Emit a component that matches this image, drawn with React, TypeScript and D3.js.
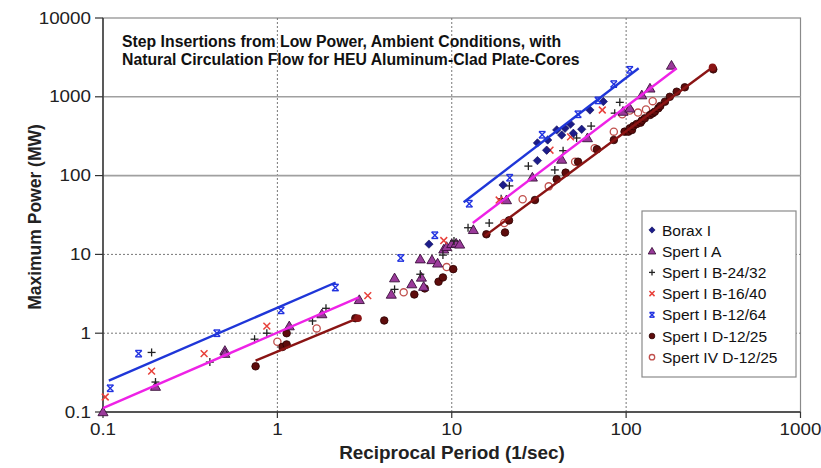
import React from "react";
import * as d3 from "d3";

// ---- data (x = reciprocal period 1/sec, y = max power MW) ----
const boraxI: [number, number][] = [
  [7.4, 13.5], [19.7, 76], [31, 155], [31, 260], [35, 210], [35.5, 283], [40, 380],
  [42.7, 327], [44.6, 398], [49.8, 344], [55.6, 387], [62, 680], [74, 870], [48, 450],
];
const spertIA: [number, number][] = [
  [0.1, 0.1], [0.2, 0.21], [0.5, 0.6], [0.5, 0.55], [1.17, 1.23], [1.8, 1.75], [2.95, 2.65],
  [4.5, 3.1], [4.7, 5], [5.9, 4.2], [6.7, 5.1], [6.9, 3.9], [6.6, 8.7], [7.7, 8.5], [8.3, 7.7],
  [9.0, 11.6], [9.35, 12.5], [10, 13.6], [10.6, 13.8], [11.1, 13.4], [13.3, 20.5], [20.6, 49],
  [29, 95], [42.7, 160], [60, 300], [96, 650], [105, 714], [123, 1050], [137, 1280], [182, 2500],
];
const spertIB2432: [number, number][] = [
  [0.19, 0.57], [0.2, 0.24], [0.41, 0.43], [0.74, 0.84], [0.87, 1.0], [1.59, 1.43], [1.9, 2.07],
  [4.7, 3.6], [6.6, 5.6], [8.9, 9.8], [10.3, 14.8], [12.4, 21.8], [16.4, 25], [19.2, 51],
  [21.4, 74], [27.5, 132], [39, 118], [43.5, 207], [52, 300], [63, 425], [86, 620], [92, 850],
];
const spertIB1640: [number, number][] = [
  [0.103, 0.155], [0.19, 0.33], [0.38, 0.55], [0.87, 1.23], [3.3, 3.0], [9, 15], [18.7, 49],
  [36.6, 210], [48, 310], [73, 680],
];
const spertIB1264: [number, number][] = [
  [0.11, 0.2], [0.16, 0.55], [0.45, 1.0], [1.05, 1.95], [2.15, 3.8], [5.1, 9], [8, 17.5],
  [12.6, 44], [21.5, 94], [33, 330], [53, 600], [69, 900], [85, 1450], [105, 2200],
];
const spertID1225: [number, number][] = [
  [0.75, 0.38], [1.07, 0.67], [1.13, 0.72], [1.13, 1.0], [2.8, 1.55], [4.1, 1.45], [6.1, 3.1],
  [7.0, 3.7], [8.4, 4.5], [8.9, 5.1], [10.2, 6.5], [15.8, 18], [20.2, 19], [21.3, 27], [30, 49],
  [40, 90], [45, 109], [53, 150], [68, 216], [85, 283], [98, 361], [103, 361], [105, 398],
  [108, 379], [110, 425], [115, 452], [121, 470], [123, 498], [128, 533], [137, 587], [142, 617],
  [146, 647], [153, 714], [157, 765], [167, 867], [178, 1000], [195, 1160], [217, 1320], [316, 2230],
];
const spertIVD1225: [number, number][] = [
  [1.0, 0.78], [1.68, 1.15], [5.3, 3.3], [9.35, 6.9], [20, 25], [25.5, 50], [36, 73], [51, 150],
  [66, 222], [85, 361], [95, 600], [105, 670], [117, 630], [130, 690], [142, 880],
];

// fitted lines (segments)
const blueFit: [number, number][][] = [
  [[0.108, 0.25], [2.16, 4.4]],
  [[11.7, 46], [118, 2300]],
];
const magentaFit: [number, number][][] = [
  [[0.1, 0.112], [2.93, 2.85]],
  [[13.2, 25], [195, 2300]],
];
const brownFit: [number, number][][] = [
  [[0.75, 0.45], [2.9, 1.55]],
  [[15.5, 17.2], [313, 2370]],
];

const xTicks = [0.1, 1, 10, 100, 1000];
const yTicks = [0.1, 1, 10, 100, 1000, 10000];
const titleLines = [
  "Step Insertions from Low Power, Ambient Conditions, with",
  "Natural Circulation Flow for HEU Aluminum-Clad Plate-Cores",
];
const legendNames = [
  "Borax I", "Spert I A", "Spert I B-24/32", "Spert I B-16/40",
  "Spert I B-12/64", "Spert I D-12/25", "Spert IV D-12/25",
];

const W = 821, H = 468;
const PL = 103, PR = 800.5, PT = 18, PB = 412;
const x = d3.scaleLog().domain([0.1, 1000]).range([PL, PR]);
const y = d3.scaleLog().domain([0.1, 10000]).range([PB, PT]);
const font = "Arial, 'Liberation Sans', Helvetica, sans-serif";

type Kind = "diamond" | "triangle" | "plus" | "x" | "star" | "dot" | "ring";

function Marker({ kind, cx, cy, s = 1 }: { kind: Kind; cx: number; cy: number; s?: number }) {
  const r = 4 * s;
  switch (kind) {
    case "diamond": {
      const a = 4.2 * s;
      return <path d={`M${cx},${cy - a}L${cx + a},${cy}L${cx},${cy + a}L${cx - a},${cy}Z`} fill="#1c1c8a" stroke="#10105a" strokeWidth={0.6} />;
    }
    case "triangle":
      return <path d={d3.symbol(d3.symbolTriangle, 44 * s * s)()!} transform={`translate(${cx},${cy + 0.8 * s})`} fill="#9a3a9a" stroke="#3a103a" strokeWidth={0.9} />;
    case "plus":
      return (
        <g stroke="#222" strokeWidth={1.3}>
          <line x1={cx - r} x2={cx + r} y1={cy} y2={cy} />
          <line x1={cx} x2={cx} y1={cy - r} y2={cy + r} />
        </g>
      );
    case "x":
      return (
        <g stroke="#e8403a" strokeWidth={1.5}>
          <line x1={cx - r * 0.85} x2={cx + r * 0.85} y1={cy - r * 0.85} y2={cy + r * 0.85} />
          <line x1={cx - r * 0.85} x2={cx + r * 0.85} y1={cy + r * 0.85} y2={cy - r * 0.85} />
        </g>
      );
    case "star":
      return (
        <g stroke="#2233e0" strokeWidth={1.4}>
          <line x1={cx - r * 0.8} x2={cx + r * 0.8} y1={cy - r * 0.8} y2={cy + r * 0.8} />
          <line x1={cx - r * 0.8} x2={cx + r * 0.8} y1={cy + r * 0.8} y2={cy - r * 0.8} />
          <line x1={cx - r * 0.8} x2={cx + r * 0.8} y1={cy - r * 0.8} y2={cy - r * 0.8} />
          <line x1={cx - r * 0.8} x2={cx + r * 0.8} y1={cy + r * 0.8} y2={cy + r * 0.8} />
        </g>
      );
    case "dot":
      return <circle cx={cx} cy={cy} r={3.8 * s} fill="#5e0c0c" stroke="#2a0000" strokeWidth={0.8} />;
    case "ring":
      return <circle cx={cx} cy={cy} r={3.6 * s} fill="#fff" stroke="#c0504d" strokeWidth={1.3} />;
  }
}

const series: { data: [number, number][]; kind: Kind }[] = [
  { data: spertIVD1225, kind: "ring" },
  { data: spertID1225, kind: "dot" },
  { data: spertIA, kind: "triangle" },
  { data: spertIB2432, kind: "plus" },
  { data: spertIB1640, kind: "x" },
  { data: boraxI, kind: "diamond" },
  { data: spertIB1264, kind: "star" },
];
const legendKinds: Kind[] = ["diamond", "triangle", "plus", "x", "star", "dot", "ring"];

const line = d3.line<[number, number]>().x((d) => x(d[0])).y((d) => y(d[1]));

export default function App() {
  return (
    <svg width={W} height={H} style={{ position: "absolute", left: 0, top: 0, background: "#fff" }} fontFamily={font}>
      <rect x={0} y={0} width={W} height={H} fill="#fff" />
      {/* plot border */}
      <rect x={PL} y={PT} width={PR - PL} height={PB - PT} fill="none" stroke="#8a8a8a" strokeWidth={1.2} />
      {/* grid */}
      {xTicks.slice(1, -1).map((t) => (
        <line key={"gx" + t} x1={x(t)} x2={x(t)} y1={PT} y2={PB} stroke="#777" strokeWidth={1} strokeDasharray="2,2" />
      ))}
      {yTicks.slice(1, -1).map((t) => (
        <line key={"gy" + t} x1={PL} x2={PR} y1={y(t)} y2={y(t)}
          stroke={t >= 100 ? "#a0a0a0" : "#777"} strokeWidth={t >= 100 ? 1.6 : 1}
          strokeDasharray={t >= 100 ? undefined : "2,2"} />
      ))}
      {/* axes */}
      <line x1={PL} x2={PL} y1={PT} y2={PB} stroke="#333" strokeWidth={1.4} />
      <line x1={PL} x2={PR} y1={PB} y2={PB} stroke="#333" strokeWidth={1.4} />
      {yTicks.map((t) => (
        <g key={"yt" + t}>
          <line x1={PL - 8} x2={PL} y1={y(t)} y2={y(t)} stroke="#333" strokeWidth={1.2} />
          <text transform={`translate(${PL - 12},${y(t)}) scale(1.14,1)`} textAnchor="end" dominantBaseline="central" fontSize={16.5} fill="#222">
            {String(t)}
          </text>
        </g>
      ))}
      {xTicks.map((t) => (
        <g key={"xt" + t}>
          <line x1={x(t)} x2={x(t)} y1={PB} y2={PB + 6} stroke="#333" strokeWidth={1.2} />
          <text transform={`translate(${x(t)},${PB + 23}) scale(1.14,1)`} textAnchor="middle" fontSize={16.5} fill="#222">
            {String(t)}
          </text>
        </g>
      ))}
      <text transform={`translate(452,${H - 9}) scale(1.05,1)`} textAnchor="middle" fontSize={18} fontWeight="bold" fill="#222">
        Reciprocal Period (1/sec)
      </text>
      <text transform={`translate(41,${(PT + PB) / 2 + 2}) rotate(-90)`} textAnchor="middle" fontSize={17.5} fontWeight="bold" fill="#222">
        Maximum Power (MW)
      </text>
      {/* title */}
      {titleLines.map((l, i) => (
        <text key={l} x={122} y={47 + i * 18} fontSize={15.8} fontWeight="bold" fill="#111">
          {l}
        </text>
      ))}
      {/* markers */}
      {series.map((s, si) => (
        <g key={"s" + si}>
          {s.data.map((d, i) => (
            <Marker key={i} kind={s.kind} cx={x(d[0])} cy={y(d[1])} />
          ))}
        </g>
      ))}
      {/* fit lines */}
      {magentaFit.map((seg, i) => (
        <path key={"m" + i} d={line(seg)!} stroke="#ee22e6" strokeWidth={2.4} fill="none" />
      ))}
      {blueFit.map((seg, i) => (
        <path key={"b" + i} d={line(seg)!} stroke="#1f36d8" strokeWidth={2.4} fill="none" />
      ))}
      {brownFit.map((seg, i) => (
        <g key={"r" + i}>
          <path d={line(seg)!} stroke="#8a1414" strokeWidth={2.4} fill="none" />
          <circle cx={x(seg[1][0])} cy={y(seg[1][1])} r={3.8} fill="#8a1414" />
        </g>
      ))}
      {/* legend */}
      <rect x={642} y={211} width={154} height={166} fill="#fff" stroke="#8a8a8a" strokeWidth={1.2} />
      {legendNames.map((n, i) => (
        <g key={n}>
          <Marker kind={legendKinds[i]} cx={652} cy={230 + i * 21.2} s={0.75} />
          <text x={662} y={230 + i * 21.2} dominantBaseline="central" fontSize={15.5} fill="#111">
            {n}
          </text>
        </g>
      ))}
    </svg>
  );
}
